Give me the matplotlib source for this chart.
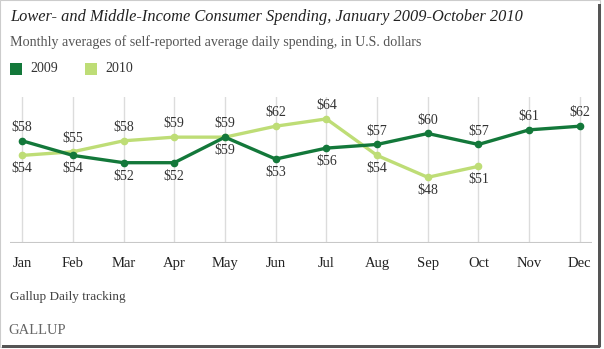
import matplotlib.pyplot as plt
from matplotlib.patches import Rectangle

months = ['Jan', 'Feb', 'Mar', 'Apr', 'May', 'Jun', 'Jul', 'Aug', 'Sep', 'Oct', 'Nov', 'Dec']
spend_2009 = [58, 54, 52, 52, 59, 53, 56, 57, 60, 57, 61, 62]
spend_2010 = [54, 55, 58, 59, 59, 62, 64, 54, 48, 51]
# label position: 1 = above the point, -1 = below
pos_2009 = [1, -1, -1, -1, -1, -1, -1, 1, 1, 1, 1, 1]
pos_2010 = [-1, 1, 1, 1, 1, 1, 1, -1, -1, -1]

dark = '#13783a'
light = '#bedd76'
serif = ['Liberation Serif', 'DejaVu Serif']

plt.rcParams['font.family'] = serif

W, H = 604, 349
fig = plt.figure(figsize=(W / 100, H / 100), dpi=100)
fig.patch.set_facecolor('white')

ax = fig.add_axes([10 / W, (H - 243) / H, 582 / W, 146 / H])
x = list(range(len(months)))

for i in x:
    ax.axvline(i, color='#dcdcdc', lw=1, zorder=0)
ax.axhline(30, color='#c8c8c8', lw=1.5, zorder=1)

ax.plot(x[:len(spend_2010)], spend_2010, color=light, lw=2.4, marker='o', ms=4.5, zorder=2)
ax.plot(x, spend_2009, color=dark, lw=2.4, marker='o', ms=4.5, zorder=3)

for vals, pos in ((spend_2009, pos_2009), (spend_2010, pos_2010)):
    for i, (v, p) in enumerate(zip(vals, pos)):
        ax.annotate('$%d' % v, (i, v), xytext=(0, 5 * p), textcoords='offset points',
                    ha='center', va='bottom' if p > 0 else 'top', fontsize=10, color='#333333')

ax.set_xlim(-0.24, 11.24)
ax.set_ylim(30, 70)
ax.set_xticks(x)
ax.set_xticklabels(months, fontsize=10.5, color='#222222')
ax.tick_params(axis='x', length=0, pad=10)
ax.set_yticks([])
for s in ax.spines.values():
    s.set_visible(False)

fig.text(10 / W, 1 - 17 / H, 'Lower- and Middle-Income Consumer Spending, January 2009-October 2010',
         fontsize=11.8, style='italic', color='#222222', va='center')
fig.text(10 / W, 1 - 42 / H, 'Monthly averages of self-reported average daily spending, in U.S. dollars',
         fontsize=10.1, color='#555555', va='center')

fig.patches.append(Rectangle((10 / W, 1 - 75 / H), 12 / W, 12 / H, transform=fig.transFigure,
                             facecolor=dark, edgecolor='none'))
fig.text(30 / W, 1 - 69 / H, '2009', fontsize=10, color='#333333', va='center')
fig.patches.append(Rectangle((85 / W, 1 - 75 / H), 12 / W, 12 / H, transform=fig.transFigure,
                             facecolor=light, edgecolor='none'))
fig.text(105 / W, 1 - 69 / H, '2010', fontsize=10, color='#333333', va='center')

fig.text(10 / W, 1 - 297 / H, 'Gallup Daily tracking', fontsize=9.5, color='#444444', va='center')
fig.text(8 / W, 1 - 330 / H, 'GALLUP', fontsize=10.5, color='#666666', va='center')

# frame with shadow like the screenshot
fig.patches.append(Rectangle((0, 2 / H), 1 - 4 / W, 1 - 2 / H, transform=fig.transFigure,
                             facecolor='none', edgecolor='#cccccc', lw=0.8))
fig.patches.append(Rectangle((W - 6, 2), 3, H - 6, transform=None, facecolor='#555555'))
fig.patches.append(Rectangle((2, 1), W - 6, 3, transform=None, facecolor='#555555'))

fig.savefig('out.png', dpi=100)
